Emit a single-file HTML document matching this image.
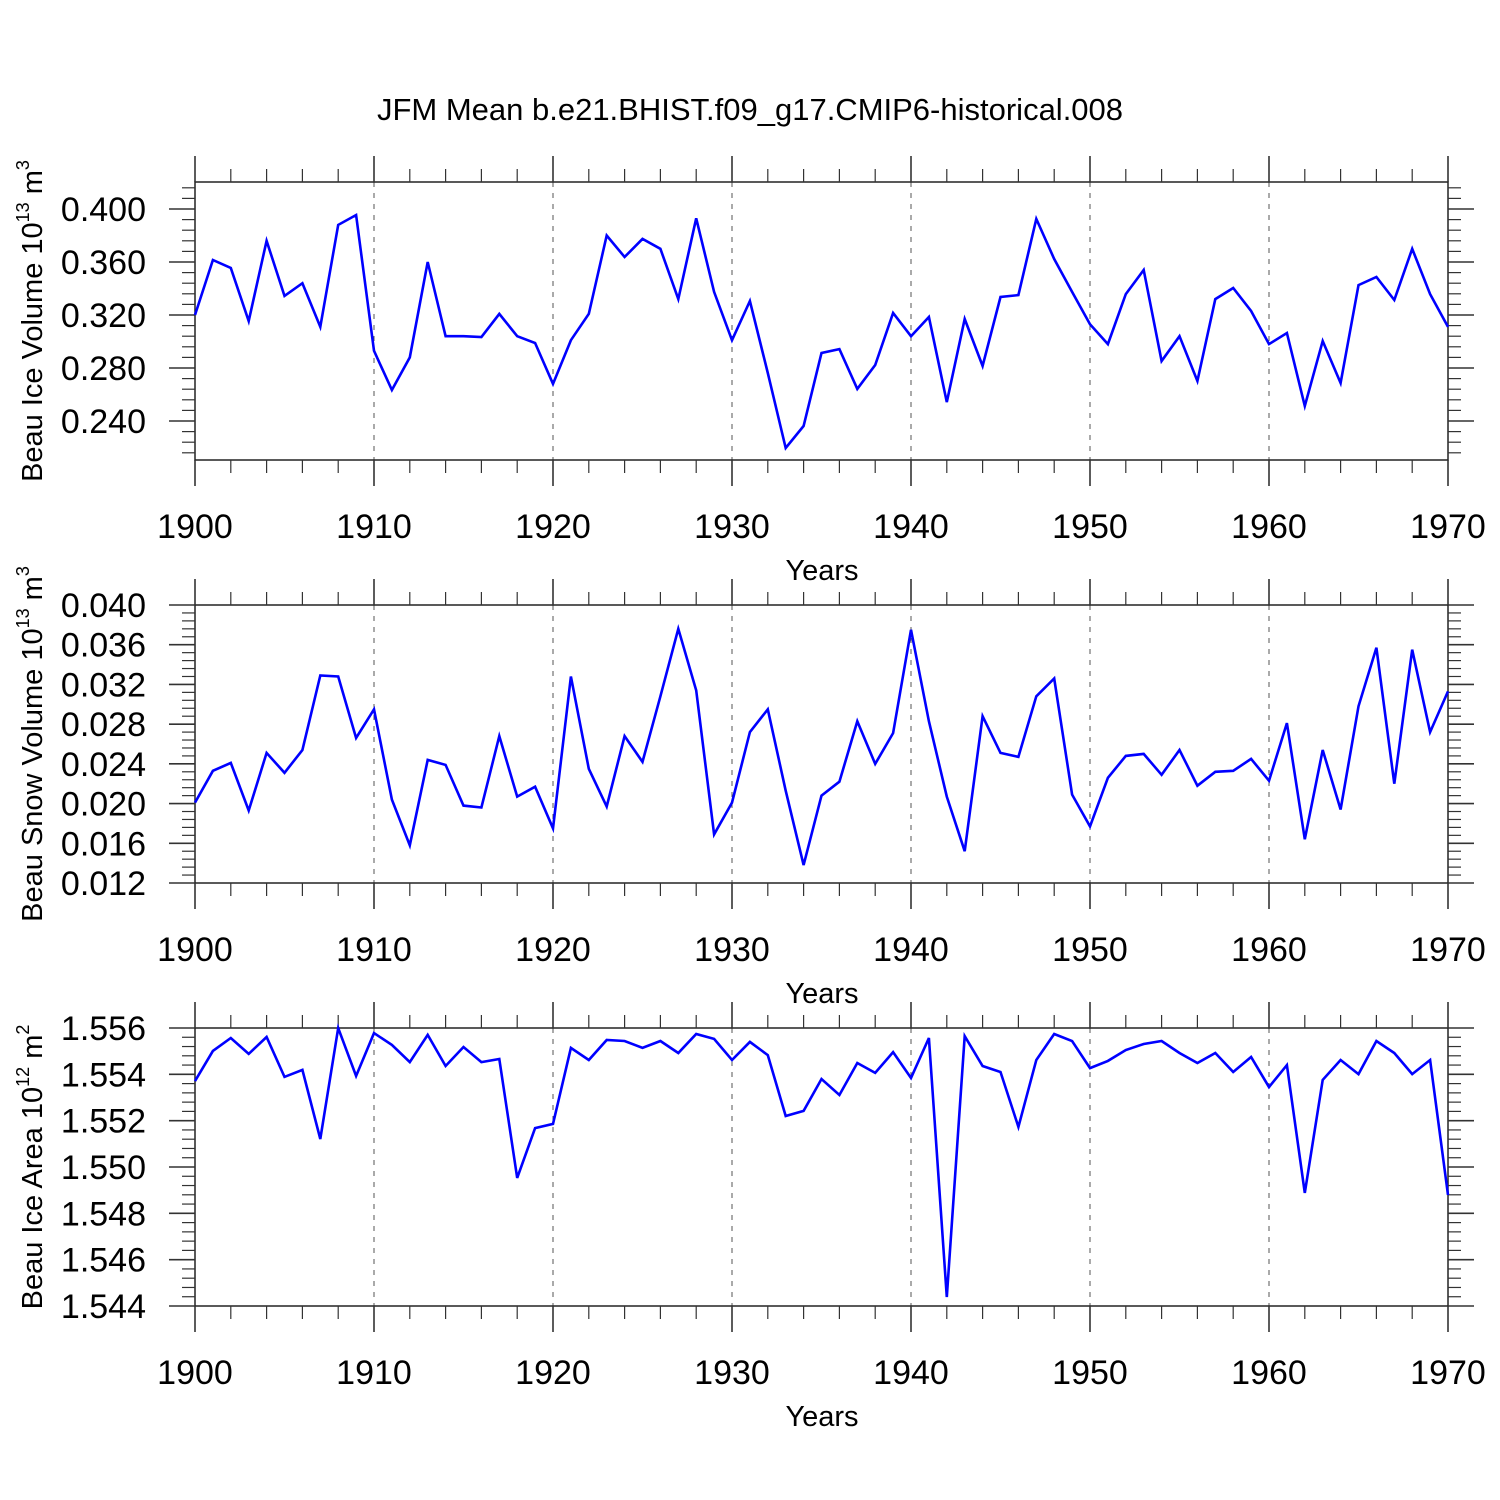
<!DOCTYPE html>
<html><head><meta charset="utf-8"><style>
html,body{margin:0;padding:0;background:#fff;}
svg{display:block;font-family:"Liberation Sans",sans-serif;}
</style></head><body>
<svg id="chart" width="1500" height="1500" viewBox="0 0 1500 1500" xmlns="http://www.w3.org/2000/svg">
<text x="750" y="120" text-anchor="middle" font-size="31">JFM Mean b.e21.BHIST.f09_g17.CMIP6-historical.008</text>
</svg>
<script>
const years = [];
for (let y = 1900; y <= 1970; y++) years.push(y);
const xTicks = [1900,1910,1920,1930,1940,1950,1960,1970];

const iceVolume = [0.320,0.3615,0.3555,0.3155,0.376,0.3344,0.344,0.311,0.388,0.3955,
0.293,0.2634,0.288,0.360,0.304,0.304,0.3034,0.3208,0.304,0.2989,
0.268,0.301,0.3208,0.380,0.3638,0.3774,0.370,0.332,0.393,0.3374,
0.301,0.3306,0.2762,0.2196,0.2362,0.2913,0.2943,0.2642,0.2823,0.3215,
0.304,0.3185,0.2543,0.317,0.2815,0.3336,0.335,0.3925,0.3623,0.3374,
0.313,0.298,0.3358,0.354,0.2853,0.304,0.2702,0.332,0.3404,0.323,
0.298,0.3064,0.2513,0.3004,0.2687,0.3426,0.3487,0.3313,0.370,0.3358,0.311];
const snowVolume = [0.0201,0.0233,0.0241,0.0193,0.0251,0.0231,0.0254,0.0329,0.0328,0.0266,
0.0295,0.0204,0.0158,0.0244,0.0239,0.0198,0.0196,0.0268,0.0207,0.0217,
0.0175,0.0328,0.0235,0.0197,0.0268,0.0242,0.0308,0.0376,0.0314,0.0169,
0.0201,0.0272,0.0295,0.0213,0.0138,0.0208,0.0222,0.0283,0.024,0.0271,
0.0375,0.0283,0.0207,0.0152,0.0288,0.0251,0.0247,0.0308,0.0326,0.0209,
0.0177,0.0226,0.0248,0.025,0.0229,0.0254,0.0218,0.0232,0.0233,0.0245,
0.0223,0.0281,0.0164,0.0254,0.0194,0.0298,0.0357,0.022,0.0355,0.0272,0.0313];
const iceArea = [1.55371,1.55501,1.55557,1.55488,1.55561,1.55389,1.55419,1.55121,1.556,1.55393,
1.55578,1.55527,1.55453,1.5557,1.55436,1.55518,1.55453,1.55466,1.54953,1.55168,
1.55186,1.55514,1.55462,1.55548,1.55544,1.55514,1.55544,1.55492,1.55574,1.55553,
1.55462,1.5554,1.55483,1.5522,1.55242,1.5538,1.55311,1.55449,1.55406,1.55496,
1.55384,1.55557,1.54439,1.55565,1.55436,1.5541,1.55173,1.55462,1.55574,1.55544,
1.55427,1.55458,1.55505,1.55531,1.55544,1.55492,1.55449,1.55492,1.5541,1.55475,
1.55345,1.5544,1.54888,1.55376,1.55462,1.55401,1.55544,1.55492,1.55401,1.55462,1.54879];

const iceTicks = [0.240,0.280,0.320,0.360,0.400];
const snowTicks = [0.012,0.016,0.020,0.024,0.028,0.032,0.036,0.040];
const areaTicks = [1.544,1.546,1.548,1.550,1.552,1.554,1.556];

const svg = document.getElementById('chart');
const NS = 'http://www.w3.org/2000/svg';
function mk(tag, attrs, parent) {
  const e = document.createElementNS(NS, tag);
  for (const k in attrs) e.setAttribute(k, attrs[k]);
  (parent || svg).appendChild(e);
  return e;
}
const L = 195, R = 1448;
const xs = y => L + (y - 1900) / 70 * (R - L);

function panel(o) {
  const g = mk('g', {});
  
  
  const ys = v => o.y0 + (v - o.v0) / (o.v1 - o.v0) * (o.y1 - o.y0);
  xTicks.slice(1, -1).forEach(t => {
    const l = mk('line', {x1: xs(t), x2: xs(t), y1: o.top, y2: o.bot, stroke: '#555', 'stroke-width': 1, 'stroke-dasharray': '5,6'}, g);
    
    
  });
  const fr = mk('rect', {x: L, y: o.top, width: R - L, height: o.bot - o.top, fill: 'none', stroke: '#222', 'stroke-width': 1.5}, g);
  
  
  for (let y = 1900; y <= 1970; y += 2) {
    const major = y % 10 === 0;
    const len = major ? 26 : 13;
    mk('line', {x1: xs(y), x2: xs(y), y1: o.top, y2: o.top - len, stroke: '#333', 'stroke-width': major ? 1.6 : 1.2}, g);
    mk('line', {x1: xs(y), x2: xs(y), y1: o.bot, y2: o.bot + len, stroke: '#333', 'stroke-width': major ? 1.6 : 1.2}, g);
  }
  xTicks.forEach(t => {
    const tx = mk('text', {x: xs(t), y: o.bot + 78, 'text-anchor': 'middle', 'font-size': 34}, g);
    
    
    tx.textContent = t;
  });
  const xt = mk('text', {x: 822, y: o.bot + 120, 'text-anchor': 'middle', 'font-size': 29}, g);
  
  
  xt.textContent = 'Years';
  const step = (o.ticks[1] - o.ticks[0]) / 5;
  const nMin = Math.ceil((o.vBot - o.ticks[0]) / step - 1e-6);
  const nMax = Math.floor((o.vTop - o.ticks[0]) / step + 1e-6);
  for (let i = nMin; i <= nMax; i++) {
    const v = o.ticks[0] + i * step;
    const major = ((i % 5) + 5) % 5 === 0;
    const len = major ? 26 : 13;
    const yy = ys(v);
    mk('line', {x1: L, x2: L - len, y1: yy, y2: yy, stroke: '#333', 'stroke-width': major ? 1.6 : 1.2}, g);
    mk('line', {x1: R, x2: R + len, y1: yy, y2: yy, stroke: '#333', 'stroke-width': major ? 1.6 : 1.2}, g);
  }
  o.ticks.forEach(t => {
    const tx = mk('text', {x: 146, y: ys(t) + 12, 'text-anchor': 'end', 'font-size': 34}, g);
    
    
    tx.textContent = t.toFixed(3);
  });
  const mid = (o.top + o.bot) / 2;
  const yt = mk('text', {x: 0, y: 0, 'text-anchor': 'middle', 'font-size': 29, transform: `translate(42,${mid}) rotate(-90)`}, g);
  
  
  yt.innerHTML = o.title + ' 10<tspan font-size="18" dy="-13">' + o.exp + '</tspan><tspan dy="13"> m</tspan><tspan font-size="18" dy="-13">' + o.pow + '</tspan>';
  const pts = o.data.map((v, i) => xs(years[i]).toFixed(1) + ',' + ys(v).toFixed(1)).join(' ');
  const pl = mk('polyline', {points: pts, fill: 'none', stroke: '#0000ff', 'stroke-width': 2.6, 'stroke-linejoin': 'miter'}, g);
  
  
}

panel({name: 'ice-volume-panel', top: 182, bot: 460, y0: 209, v0: 0.400, y1: 421, v1: 0.240,
  vTop: 0.4204, vBot: 0.2106, ticks: iceTicks, data: iceVolume, title: 'Beau Ice Volume', exp: '13', pow: '3'});
panel({name: 'snow-volume-panel', top: 605, bot: 883, y0: 605, v0: 0.040, y1: 883, v1: 0.012,
  vTop: 0.040, vBot: 0.012, ticks: snowTicks, data: snowVolume, title: 'Beau Snow Volume', exp: '13', pow: '3'});
panel({name: 'ice-area-panel', top: 1028, bot: 1306, y0: 1028, v0: 1.556, y1: 1306, v1: 1.544,
  vTop: 1.556, vBot: 1.544, ticks: areaTicks, data: iceArea, title: 'Beau Ice Area', exp: '12', pow: '2'});
</script>
</body></html>
